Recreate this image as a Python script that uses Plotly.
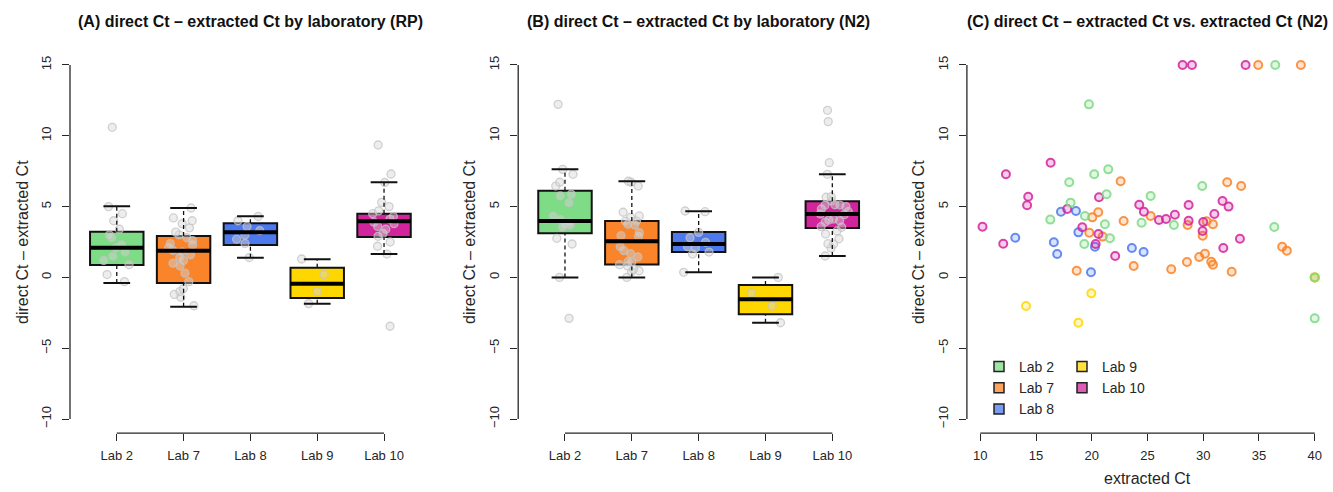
import plotly.graph_objects as go

# ---------------- data ----------------
labs = ["Lab 2", "Lab 7", "Lab 8", "Lab 9", "Lab 10"]
lab_colors = ["#7EDB86", "#F98429", "#4D79EE", "#FFD700", "#D2259C"]
lab_rgb = [(126, 219, 134), (249, 132, 41), (77, 121, 238), (255, 215, 0), (210, 37, 156)]

# (A) RP box statistics: lower whisker, Q1, median, Q3, upper whisker
rp_lower = [-0.40, -2.07, 1.39, -1.86, 1.65]
rp_q1 = [0.88, -0.40, 2.29, -1.45, 2.85]
rp_median = [2.10, 1.89, 3.18, -0.44, 3.96]
rp_q3 = [3.23, 2.92, 3.82, 0.69, 4.50]
rp_upper = [5.03, 4.90, 4.31, 1.28, 6.72]

# (A) RP individual differences
rp_lab2 = [10.6, 5.0, 4.5, 4.0, 3.4, 3.0, 2.8, 2.3, 2.1, 1.8, 1.5, 1.2, 0.9, 0.2, -0.3]
rp_lab7 = [4.9, 4.2, 4.0, 3.8, 3.5, 3.2, 3.0, 2.8, 2.6, 2.4, 2.3, 2.1, 1.9, 1.8, 1.6,
           1.4, 1.2, 1.0, 0.8, 0.3, -0.3, -0.8, -1.0, -1.2, -1.4, -2.0]
rp_lab8 = [4.3, 4.0, 3.6, 3.3, 3.0, 2.7, 2.4, 1.4]
rp_lab9 = [1.3, 0.2, -1.0, -1.85]
rp_lab10 = [9.35, 7.3, 6.7, 5.3, 5.0, 4.7, 4.5, 4.3, 4.1, 3.9, 3.8, 3.6, 3.4, 3.1, 2.9,
            2.5, 2.2, 1.65, -3.45]

# (B) N2 box statistics
n2_lower = [0.00, 0.00, 0.36, -3.20, 1.51]
n2_q1 = [3.11, 0.92, 1.79, -2.60, 3.49]
n2_median = [3.98, 2.55, 2.36, -1.55, 4.48]
n2_q3 = [6.12, 3.98, 3.20, -0.54, 5.37]
n2_upper = [7.63, 6.79, 4.67, 0.00, 7.28]

# (B) N2 individual differences
n2_lab2 = [12.22, 7.63, 7.28, 6.72, 6.45, 5.87, 5.75, 5.28, 4.34, 4.08, 3.86, 3.75, 3.70,
           3.56, 2.76, 2.36, 0.0, -2.89]
n2_lab7 = [6.79, 6.72, 6.45, 4.60, 4.34, 4.24, 3.98, 3.96, 3.75, 3.70, 3.16, 2.95, 2.88,
           2.17, 1.89, 1.67, 1.44, 1.11, 1.09, 0.90, 0.81, 0.57, 0.47, 0.40, 0.0]
n2_lab8 = [4.69, 4.64, 3.18, 2.80, 2.48, 2.17, 2.08, 1.79, 1.65, 0.36]
n2_lab9 = [0.0, -1.12, -2.02, -3.20]
n2_lab10 = [11.8, 11.0, 8.10, 7.28, 5.70, 5.66, 5.40, 5.13, 5.11, 5.09, 5.00, 4.83, 4.64,
            4.48, 4.43, 4.12, 4.05, 4.00, 3.91, 3.58, 3.54, 3.28, 3.06, 2.73, 2.38, 2.36,
            2.08, 1.51]

# (C) extracted Ct (x) vs direct - extracted Ct (y), N2
c_lab2_x = [19.75, 21.48, 20.22, 17.98, 29.91, 21.33, 25.28, 18.10, 16.28, 19.39, 21.18,
            24.47, 27.37, 36.37, 21.63, 19.33, 40.0, 40.0, 36.46]
c_lab2_y = [12.22, 7.63, 7.28, 6.72, 6.45, 5.87, 5.75, 5.28, 4.08, 4.34, 3.75, 3.86, 3.70,
            3.56, 2.76, 2.36, 0.0, -2.89, 15.0]
c_lab7_x = [22.59, 20.58, 20.05, 22.86, 19.78, 20.98, 18.65, 23.76, 25.28, 32.15, 33.40,
            28.60, 30.30, 30.87, 29.95, 27.13, 28.54, 29.64, 30.15, 30.72, 30.87, 32.55,
            37.08, 37.50, 34.93, 38.76, 40.0]
c_lab7_y = [6.79, 4.60, 4.24, 3.98, 3.16, 2.88, 0.47, 0.81, 4.34, 6.72, 6.45, 3.70, 3.96,
            3.75, 2.95, 0.57, 1.09, 1.44, 1.67, 1.11, 0.90, 0.40, 2.17, 1.89, 15.0, 15.0, 0.0]
c_lab8_x = [17.24, 18.58, 13.14, 16.60, 16.90, 18.80, 20.29, 19.93, 23.60, 24.65]
c_lab8_y = [4.64, 4.69, 2.80, 2.48, 1.65, 3.18, 2.17, 0.36, 2.08, 1.79]
c_lab9_x = [14.10, 19.96, 18.80, 40.0]
c_lab9_y = [-2.02, -1.12, -3.20, 0.0]
c_lab10_x = [16.31, 12.30, 14.30, 14.20, 10.20, 12.06, 20.65, 17.80, 19.15, 20.60, 20.35,
             22.10, 24.26, 24.68, 26.03, 26.66, 27.46, 28.69, 28.69, 30.00, 29.94, 31.00,
             31.73, 32.27, 31.80, 33.29, 28.15, 28.99, 33.80]
c_lab10_y = [8.10, 7.28, 5.70, 5.09, 3.58, 2.38, 5.66, 4.83, 3.54, 3.06, 2.36, 1.51, 5.13,
             4.64, 4.05, 4.12, 4.43, 5.11, 4.00, 3.91, 3.28, 4.48, 5.40, 5.00, 2.08, 2.73,
             15.0, 15.0, 15.0]

y_ticks = [-10, -5, 0, 5, 10, 15]
x_ticks_c = [10, 15, 20, 25, 30, 35, 40]

titles = ["(A) direct Ct \u2013 extracted Ct by laboratory (RP)",
          "(B) direct Ct \u2013 extracted Ct by laboratory (N2)",
          "(C) direct Ct \u2013 extracted Ct vs. extracted Ct (N2)"]
y_title = "direct Ct \u2013 extracted Ct"
x_title_c = "extracted Ct"

# ---------------- figure ----------------
FONT = "Liberation Sans, Arial, sans-serif"
TXT = "#262626"
W, H = 1333, 492
fig = go.Figure()

positions = list(range(1, len(labs) + 1))
box_w = 0.8
cap_half = 0.2


def rgba(rgb, a):
    return "rgba(%d,%d,%d,%.2f)" % (rgb[0], rgb[1], rgb[2], a)


def add_box_panel(xa, ya, lower, q1, med, q3, upper, points):
    # box bodies
    for i, p in enumerate(positions):
        fig.add_trace(go.Box(
            x=[p], q1=[q1[i]], median=[med[i]], q3=[q3[i]],
            lowerfence=[q1[i]], upperfence=[q3[i]],
            width=box_w, whiskerwidth=0, fillcolor=lab_colors[i],
            line=dict(color="#111111", width=2), boxpoints=False,
            showlegend=False, hoverinfo="skip", xaxis=xa, yaxis=ya))
    # jittered individual points
    px, py = [], []
    for i, p in enumerate(positions):
        px += [p] * len(points[i])
        py += points[i]
    fig.add_trace(go.Box(
        x=px, y=py, boxpoints="all", jitter=0.6, pointpos=0, width=box_w,
        fillcolor="rgba(0,0,0,0)", line=dict(color="rgba(0,0,0,0)", width=0),
        marker=dict(size=8, color="rgba(215,215,215,0.45)",
                    line=dict(color="rgba(195,195,195,0.75)", width=1.3)),
        showlegend=False, hoverinfo="skip", xaxis=xa, yaxis=ya))
    # dashed whiskers
    wx, wy = [], []
    for i, p in enumerate(positions):
        wx += [p, p, None, p, p, None]
        wy += [q3[i], upper[i], None, lower[i], q1[i], None]
    fig.add_trace(go.Scatter(x=wx, y=wy, mode="lines",
                             line=dict(color="#111111", width=1.3, dash="4px,3px"),
                             showlegend=False, hoverinfo="skip", xaxis=xa, yaxis=ya))
    # staples
    sx, sy = [], []
    for i, p in enumerate(positions):
        sx += [p - cap_half, p + cap_half, None, p - cap_half, p + cap_half, None]
        sy += [upper[i], upper[i], None, lower[i], lower[i], None]
    fig.add_trace(go.Scatter(x=sx, y=sy, mode="lines",
                             line=dict(color="#111111", width=2),
                             showlegend=False, hoverinfo="skip", xaxis=xa, yaxis=ya))
    # thick medians
    mx, my = [], []
    for i, p in enumerate(positions):
        mx += [p - box_w / 2, p + box_w / 2, None]
        my += [med[i], med[i], None]
    fig.add_trace(go.Scatter(x=mx, y=my, mode="lines",
                             line=dict(color="#000000", width=4),
                             showlegend=False, hoverinfo="skip", xaxis=xa, yaxis=ya))


add_box_panel("x", "y", rp_lower, rp_q1, rp_median, rp_q3, rp_upper,
              [rp_lab2, rp_lab7, rp_lab8, rp_lab9, rp_lab10])
add_box_panel("x2", "y2", n2_lower, n2_q1, n2_median, n2_q3, n2_upper,
              [n2_lab2, n2_lab7, n2_lab8, n2_lab9, n2_lab10])

# scatter panel (C)
c_x = [c_lab2_x, c_lab7_x, c_lab8_x, c_lab9_x, c_lab10_x]
c_y = [c_lab2_y, c_lab7_y, c_lab8_y, c_lab9_y, c_lab10_y]
draw_order = [1, 3, 2, 4, 0]
for i in draw_order:
    fig.add_trace(go.Scatter(
        x=c_x[i], y=c_y[i], mode="markers",
        marker=dict(size=8, color=rgba(lab_rgb[i], 0.22),
                    line=dict(color=rgba(lab_rgb[i], 0.85), width=2)),
        showlegend=False, hoverinfo="skip", xaxis="x3", yaxis="y3"))

# legend entries (squares), two columns
for i, lab in enumerate(labs):
    fig.add_trace(go.Scatter(
        x=[None], y=[None], mode="markers", name=lab,
        marker=dict(symbol="square", size=10, color=rgba(lab_rgb[i], 0.75),
                    line=dict(color="#222222", width=1.5)),
        legend="legend" if i < 3 else "legend2", xaxis="x3", yaxis="y3"))

# ---------------- layout ----------------
dom_a = [70.0 / W, 430.8 / W]
dom_b = [518.2 / W, 879.1 / W]
dom_c = [966.9 / W, 1328.1 / W]
ydom = [1 - 433.2 / H, 1 - 50.8 / H]

tickfont = dict(family=FONT, size=13, color=TXT)
common_y = dict(range=[-11, 16], tickvals=y_ticks, tickangle=-90, ticks="outside",
                ticklen=7, tickwidth=1, tickcolor=TXT, showline=False, showgrid=False,
                zeroline=False, tickfont=tickfont, ticklabelstandoff=6, domain=ydom,
                automargin=False)
common_xbox = dict(range=[0.3, 5.7], tickvals=positions, ticktext=labs, ticks="outside",
                   ticklen=7, tickwidth=1, tickcolor=TXT, showline=False, showgrid=False,
                   zeroline=False, tickfont=tickfont, ticklabelstandoff=3, automargin=False)

fig.update_layout(
    width=W, height=H, margin=dict(l=0, r=0, t=0, b=0),
    paper_bgcolor="white", plot_bgcolor="white",
    font=dict(family=FONT, color=TXT),
    boxmode="overlay",
    xaxis=dict(domain=dom_a, anchor="y", **common_xbox),
    yaxis=dict(anchor="x", **common_y),
    xaxis2=dict(domain=dom_b, anchor="y2", **common_xbox),
    yaxis2=dict(anchor="x2", **common_y),
    xaxis3=dict(domain=dom_c, anchor="y3", range=[8.8, 41.2], tickvals=x_ticks_c,
                ticks="outside", ticklen=7, tickwidth=1, tickcolor=TXT, showline=False,
                showgrid=False, zeroline=False, tickfont=tickfont, ticklabelstandoff=3,
                automargin=False),
    yaxis3=dict(anchor="x3", **common_y),
    legend=dict(x=979 / W, y=1 - 351 / H, xanchor="left", yanchor="top",
                bgcolor="rgba(0,0,0,0)", font=dict(family=FONT, size=14, color=TXT),
                tracegroupgap=0, itemclick=False),
    legend2=dict(x=1062 / W, y=1 - 351 / H, xanchor="left", yanchor="top",
                 bgcolor="rgba(0,0,0,0)", font=dict(family=FONT, size=14, color=TXT),
                 tracegroupgap=0, itemclick=False),
    showlegend=True,
)

# R-style axis lines spanning only the tick range
line_style = dict(color=TXT, width=1.3)
for xa, ya, xt in [("x", "y", positions), ("x2", "y2", positions), ("x3", "y3", x_ticks_c)]:
    fig.add_shape(type="line", xref=xa + " domain", yref=ya, x0=0, x1=0,
                  y0=min(y_ticks), y1=max(y_ticks), line=line_style)
    fig.add_shape(type="line", xref=xa, yref=ya + " domain", x0=min(xt), x1=max(xt),
                  y0=0, y1=0, line=line_style)

# titles and axis titles
centers = [sum(dom_a) / 2, sum(dom_b) / 2, sum(dom_c) / 2]
for c, t in zip(centers, titles):
    fig.add_annotation(x=c, y=1 - 21 / H, xref="paper", yref="paper", text="<b>%s</b>" % t,
                       showarrow=False, xanchor="center", yanchor="middle",
                       font=dict(family=FONT, size=16, color="#111111"))
for xpx in [22, 469, 918]:
    fig.add_annotation(x=xpx / W, y=sum(ydom) / 2, xref="paper", yref="paper", text=y_title,
                       textangle=-90, showarrow=False, xanchor="center", yanchor="middle",
                       font=dict(family=FONT, size=16, color=TXT))
fig.add_annotation(x=centers[2], y=1 - 478 / H, xref="paper", yref="paper", text=x_title_c,
                   showarrow=False, xanchor="center", yanchor="middle",
                   font=dict(family=FONT, size=16, color=TXT))

fig.write_html("out.html", config={"displayModeBar": False},
               post_script="document.body.style.margin='0px';")
